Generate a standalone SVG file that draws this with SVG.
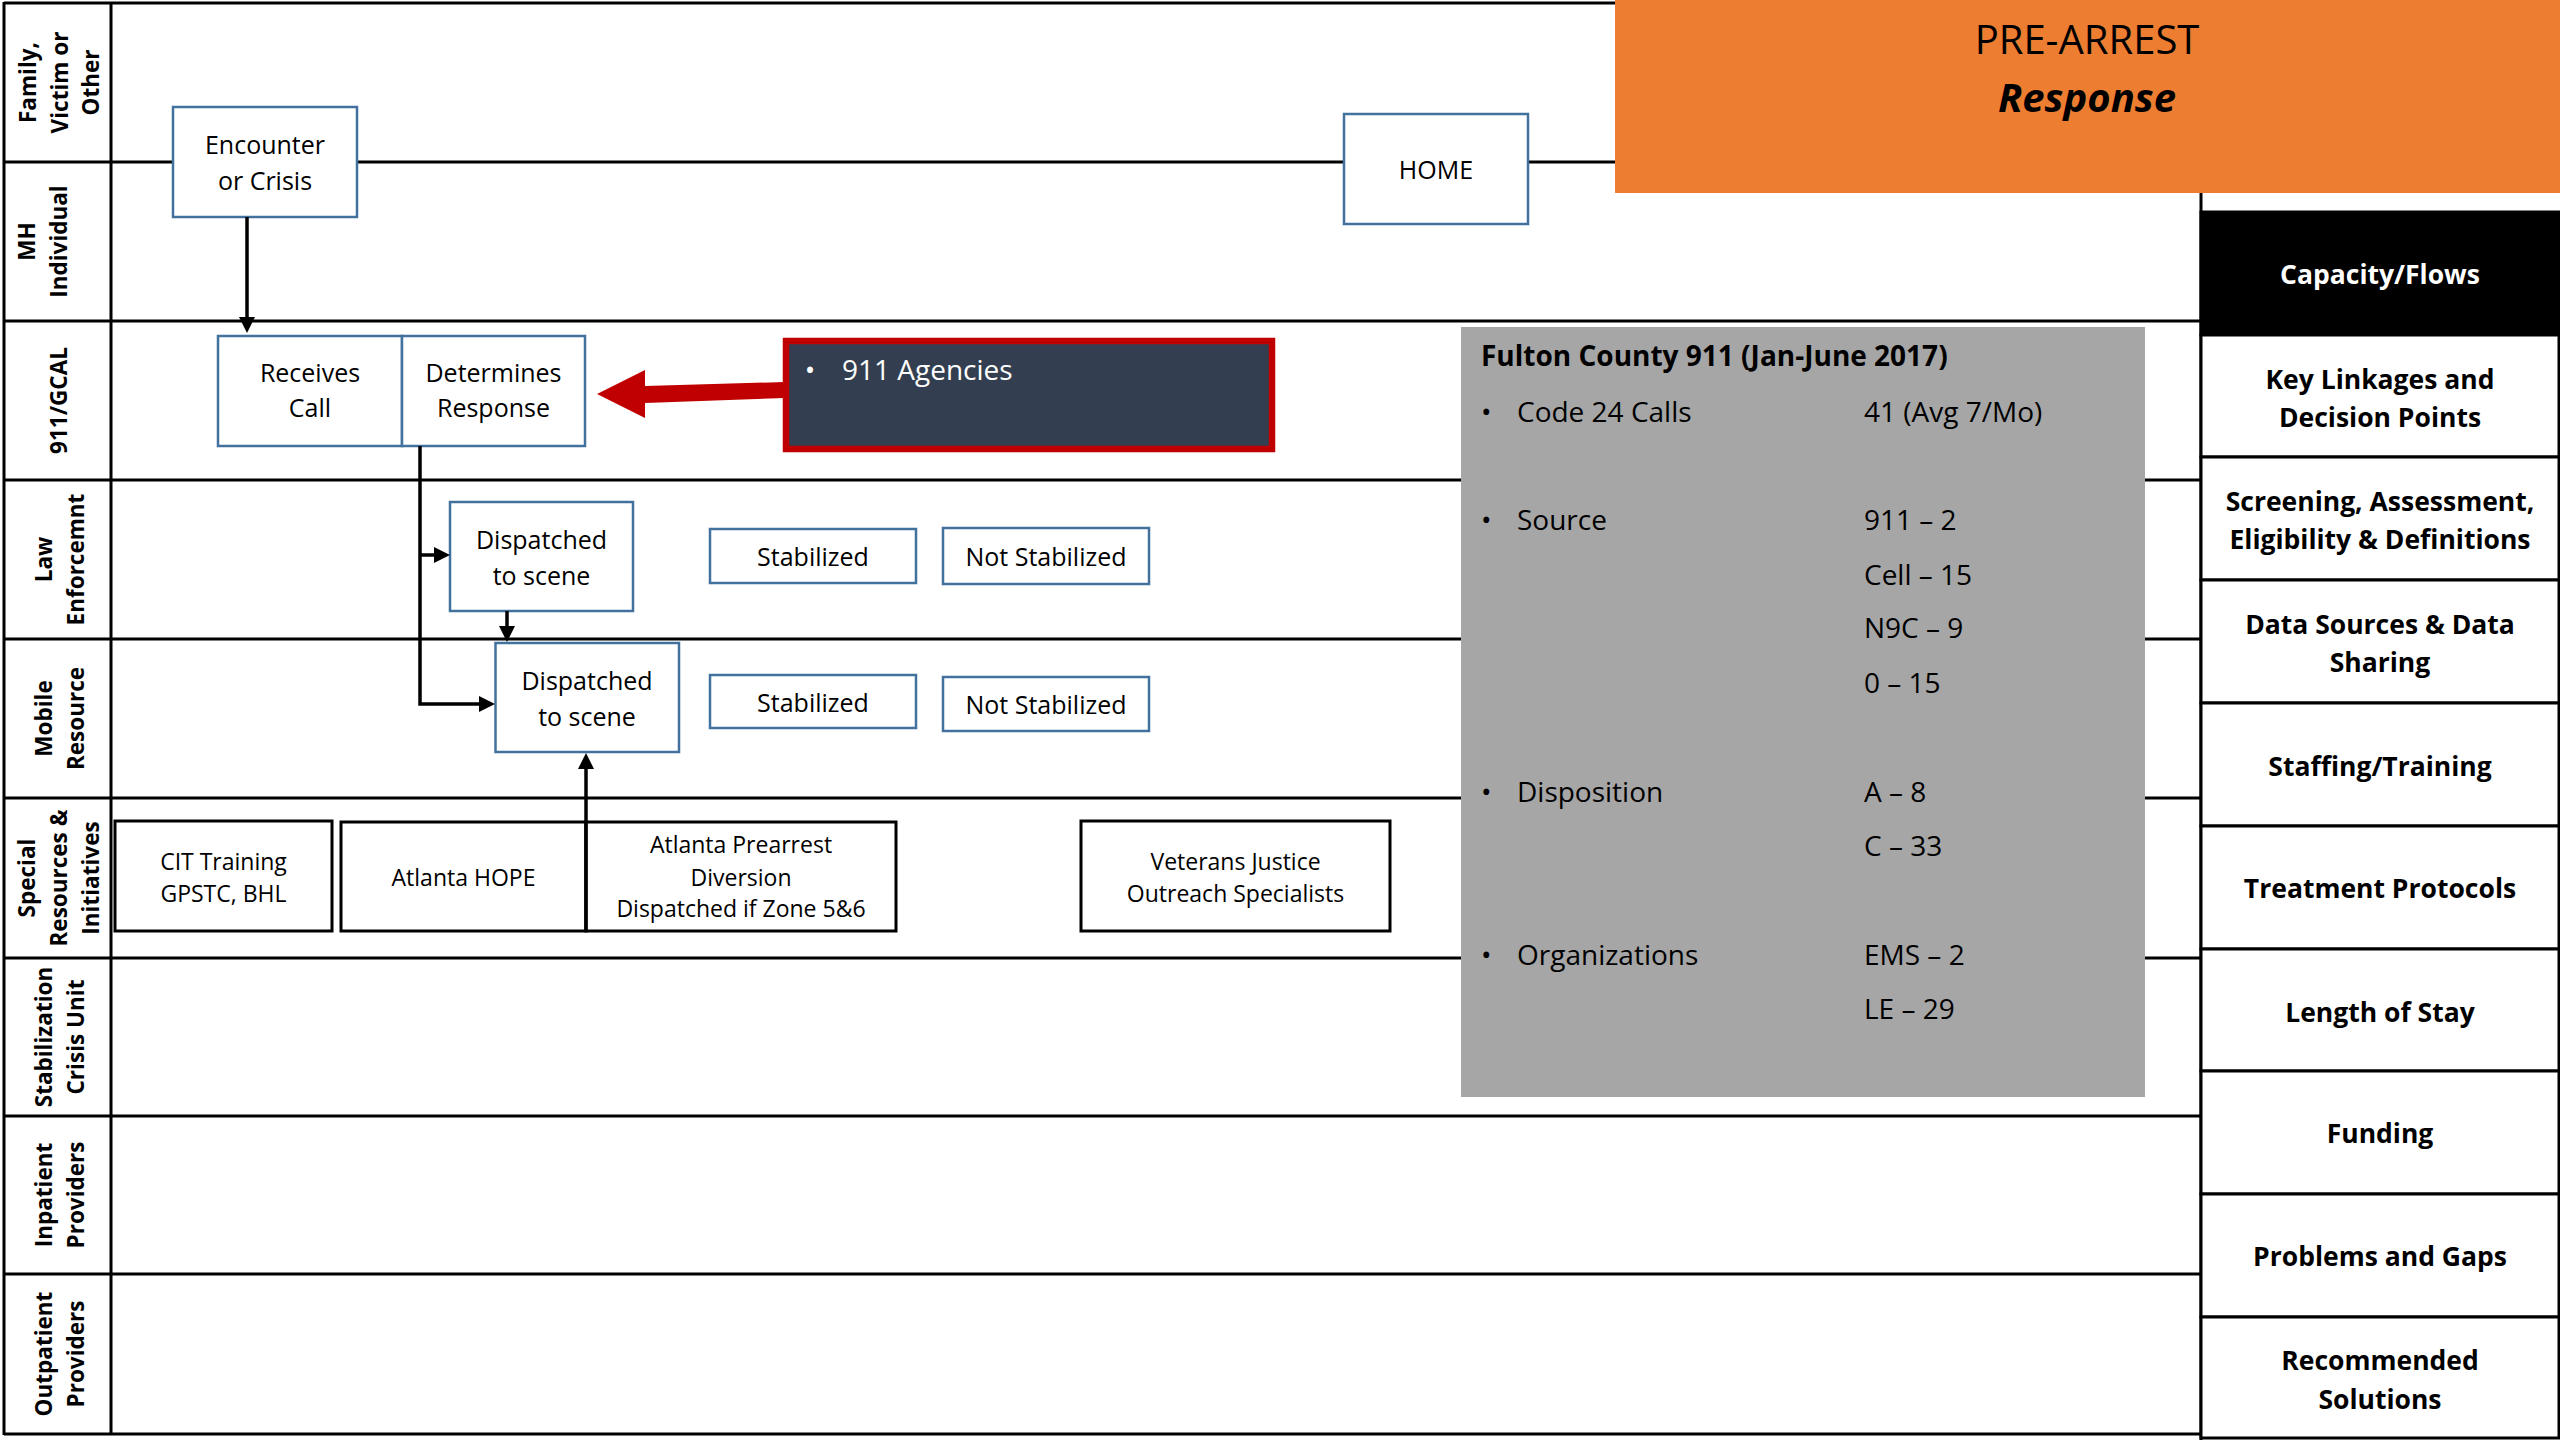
<svg xmlns="http://www.w3.org/2000/svg" width="2560" height="1440" viewBox="0 0 2560 1440">
  <style>
    text { font-family: "Open Sans", "Liberation Sans", sans-serif; fill: #000; }
    .grid { stroke: #000; stroke-width: 3; fill: none; }
    .lane { font-weight: 700; font-size: 22.5px; text-anchor: middle; }
    .box { fill: #fff; stroke: #41719C; stroke-width: 2.5; }
    .res { fill: #fff; stroke: #000; stroke-width: 3; }
    .t25 { font-size: 25px; text-anchor: middle; }
    .t23 { font-size: 23px; text-anchor: middle; }
    .cell { fill: #fff; stroke: #000; stroke-width: 3; }
    .hdr { font-weight: 700; font-size: 26.5px; text-anchor: middle; }
    .conn { stroke: #000; stroke-width: 3.5; fill: none; }
    .stat { font-size: 28px; }
  </style>
  <defs>
    <marker id="arrow" markerUnits="userSpaceOnUse" markerWidth="16" markerHeight="16" viewBox="0 0 16 16" refX="8" refY="8" orient="auto">
      <path d="M0,0 L16,8 L0,16 z" fill="#000"/>
    </marker>
  </defs>

  <rect width="2560" height="1440" fill="#fff"/>

  <!-- swimlane grid -->
  <g id="lanes">
    <path class="grid" d="M4,3 H2201 M4,162 H2201 M4,321 H2201 M4,480 H2201 M4,639 H2201 M4,798 H2201 M4,958 H2201 M4,1116 H2201 M4,1274 H2201 M4,1434 H2201"/>
    <path class="grid" d="M4,2 V1435 M111,2 V1435"/>
    <g class="lane">
      <text transform="translate(36,82.5) rotate(-90)">Family,</text>
      <text transform="translate(67.5,82.5) rotate(-90)">Victim or</text>
      <text transform="translate(99,82.5) rotate(-90)">Other</text>
      <text transform="translate(35,241.5) rotate(-90)">MH</text>
      <text transform="translate(67,241.5) rotate(-90)">Individual</text>
      <text transform="translate(67,400.5) rotate(-90)">911/GCAL</text>
      <text transform="translate(52,559.5) rotate(-90)">Law</text>
      <text transform="translate(83.5,559.5) rotate(-90)">Enforcemnt</text>
      <text transform="translate(52,718.5) rotate(-90)">Mobile</text>
      <text transform="translate(83.5,718.5) rotate(-90)">Resource</text>
      <text transform="translate(35,878) rotate(-90)">Special</text>
      <text transform="translate(67,878) rotate(-90)">Resources &amp;</text>
      <text transform="translate(99,878) rotate(-90)">Initiatives</text>
      <text transform="translate(52,1037) rotate(-90)">Stabilization</text>
      <text transform="translate(83.5,1037) rotate(-90)">Crisis Unit</text>
      <text transform="translate(52,1195) rotate(-90)">Inpatient</text>
      <text transform="translate(83.5,1195) rotate(-90)">Providers</text>
      <text transform="translate(52,1354) rotate(-90)">Outpatient</text>
      <text transform="translate(83.5,1354) rotate(-90)">Providers</text>
    </g>
  </g>

  <!-- Fulton County statistics panel -->
  <g id="fulton-stats">
    <rect x="1461" y="327" width="684" height="770" fill="#A6A6A6"/>
    <text class="stat" x="1481" y="366" font-weight="700">Fulton County 911 (Jan-June 2017)</text>
    <g class="stat">
      <text x="1481" y="422">•</text><text x="1517" y="422">Code 24 Calls</text><text x="1864" y="422">41 (Avg 7/Mo)</text>
      <text x="1481" y="530">•</text><text x="1517" y="530">Source</text><text x="1864" y="530">911 – 2</text>
      <text x="1864" y="585">Cell – 15</text>
      <text x="1864" y="638">N9C – 9</text>
      <text x="1864" y="693">0 – 15</text>
      <text x="1481" y="802">•</text><text x="1517" y="802">Disposition</text><text x="1864" y="802">A – 8</text>
      <text x="1864" y="856">C – 33</text>
      <text x="1481" y="965">•</text><text x="1517" y="965">Organizations</text><text x="1864" y="965">EMS – 2</text>
      <text x="1864" y="1019">LE – 29</text>
    </g>
  </g>

  <!-- title banner -->
  <g id="title">
    <rect x="1615" y="0" width="945" height="193" fill="#ED7D31"/>
    <text x="2087" y="54" font-size="40" text-anchor="middle">PRE-ARREST</text>
    <text x="2087" y="112" font-size="40" font-weight="700" font-style="italic" text-anchor="middle">Response</text>
  </g>

  <!-- topic column -->
  <g id="topics">
    <path class="grid" d="M2201,193 V1440"/>
    <rect x="2201" y="212" width="358" height="123" fill="#000" stroke="#000" stroke-width="3"/>
    <text class="hdr" x="2380" y="284" style="fill:#fff">Capacity/Flows</text>
    <rect class="cell" x="2201" y="335" width="358" height="122"/>
    <text class="hdr" x="2380" y="389">Key Linkages and</text>
    <text class="hdr" x="2380" y="427">Decision Points</text>
    <rect class="cell" x="2201" y="457" width="358" height="123"/>
    <text class="hdr" x="2380" y="510.5">Screening, Assessment,</text>
    <text class="hdr" x="2380" y="548.5">Eligibility &amp; Definitions</text>
    <rect class="cell" x="2201" y="580" width="358" height="123"/>
    <text class="hdr" x="2380" y="633.5">Data Sources &amp; Data</text>
    <text class="hdr" x="2380" y="672">Sharing</text>
    <rect class="cell" x="2201" y="703" width="358" height="123"/>
    <text class="hdr" x="2380" y="775.5">Staffing/Training</text>
    <rect class="cell" x="2201" y="826" width="358" height="123"/>
    <text class="hdr" x="2380" y="898">Treatment Protocols</text>
    <rect class="cell" x="2201" y="949" width="358" height="122"/>
    <text class="hdr" x="2380" y="1021.5">Length of Stay</text>
    <rect class="cell" x="2201" y="1071" width="358" height="123"/>
    <text class="hdr" x="2380" y="1143">Funding</text>
    <rect class="cell" x="2201" y="1194" width="358" height="123"/>
    <text class="hdr" x="2380" y="1266">Problems and Gaps</text>
    <rect class="cell" x="2201" y="1317" width="358" height="121"/>
    <text class="hdr" x="2380" y="1370">Recommended</text>
    <text class="hdr" x="2380" y="1409">Solutions</text>
  </g>

  <!-- process nodes -->
  <g id="node-encounter">
    <rect class="box" x="173" y="107" width="184" height="110"/>
    <text class="t25" x="265" y="154">Encounter</text>
    <text class="t25" x="265" y="190">or Crisis</text>
  </g>
  <g id="node-home">
    <rect class="box" x="1344" y="114" width="184" height="110"/>
    <text class="t25" x="1436" y="179">HOME</text>
  </g>
  <g id="node-receives-call">
    <rect class="box" x="218" y="336" width="184" height="110"/>
    <text class="t25" x="310" y="382">Receives</text>
    <text class="t25" x="310" y="417">Call</text>
  </g>
  <g id="node-determines-response">
    <rect class="box" x="402" y="336" width="183" height="110"/>
    <text class="t25" x="493.5" y="382">Determines</text>
    <text class="t25" x="493.5" y="417">Response</text>
  </g>
  <g id="node-911-agencies">
    <rect x="786" y="341" width="486" height="108" fill="#333F50" stroke="#C00000" stroke-width="6.5"/>
    <text x="810" y="380" font-size="28" text-anchor="middle" style="fill:#fff">•</text>
    <text x="842" y="380" font-size="28" style="fill:#fff">911 Agencies</text>
  </g>
  <g id="node-le-dispatched">
    <rect class="box" x="450" y="502" width="183" height="109"/>
    <text class="t25" x="541.5" y="549">Dispatched</text>
    <text class="t25" x="541.5" y="585">to scene</text>
  </g>
  <g id="node-le-stabilized">
    <rect class="box" x="710" y="529" width="206" height="54"/>
    <text class="t25" x="813" y="566">Stabilized</text>
  </g>
  <g id="node-le-not-stabilized">
    <rect class="box" x="943" y="528" width="206" height="56"/>
    <text class="t25" x="1046" y="566">Not Stabilized</text>
  </g>
  <g id="node-mobile-dispatched">
    <rect class="box" x="495.5" y="643" width="183.5" height="109"/>
    <text class="t25" x="587" y="690">Dispatched</text>
    <text class="t25" x="587" y="726">to scene</text>
  </g>
  <g id="node-mobile-stabilized">
    <rect class="box" x="710" y="675" width="206" height="53"/>
    <text class="t25" x="813" y="712">Stabilized</text>
  </g>
  <g id="node-mobile-not-stabilized">
    <rect class="box" x="943" y="677" width="206" height="54"/>
    <text class="t25" x="1046" y="714">Not Stabilized</text>
  </g>
  <g id="node-cit-training">
    <rect class="res" x="115" y="821" width="217" height="110"/>
    <text class="t23" x="223.5" y="870">CIT Training</text>
    <text class="t23" x="223.5" y="902">GPSTC, BHL</text>
  </g>
  <g id="node-atlanta-hope">
    <rect class="res" x="341" y="822" width="245" height="109"/>
    <text class="t23" x="463.5" y="886">Atlanta HOPE</text>
  </g>
  <g id="node-prearrest-diversion">
    <rect class="res" x="586" y="822" width="310" height="109"/>
    <text class="t23" x="741" y="853">Atlanta Prearrest</text>
    <text class="t23" x="741" y="886">Diversion</text>
    <text class="t23" x="741" y="917">Dispatched if Zone 5&amp;6</text>
  </g>
  <g id="node-veterans">
    <rect class="res" x="1081" y="821" width="309" height="110"/>
    <text class="t23" x="1235.5" y="870">Veterans Justice</text>
    <text class="t23" x="1235.5" y="902">Outreach Specialists</text>
  </g>

  <!-- connectors -->
  <g id="connectors">
    <path class="conn" d="M247,217 V325" marker-end="url(#arrow)"/>
    <path class="conn" d="M420,446 V704 H487" marker-end="url(#arrow)"/>
    <path class="conn" d="M420,555 H442" marker-end="url(#arrow)"/>
    <path class="conn" d="M507,611 V634" marker-end="url(#arrow)"/>
    <path class="conn" d="M586,931 V761" stroke-width="3" marker-end="url(#arrow)"/>
    <polygon points="597,394 645,370 645,386 785,382 785,398 645,403 645,418" fill="#C00000"/>
  </g>
</svg>
